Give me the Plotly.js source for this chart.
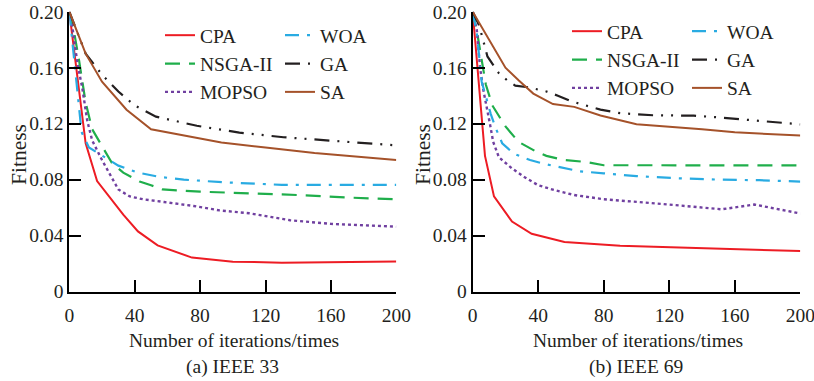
<!DOCTYPE html>
<html><head><meta charset="utf-8">
<script src="https://cdn.plot.ly/plotly-3.0.1.min.js"></script>
<style>html,body{margin:0;padding:0;background:#fff}#chart{width:814px;height:381px}</style>
</head><body><div id="chart"></div>
<script>
// ---------- data: (a) IEEE 33 ----------
const cpaA_x   = [0,10,17,25,33,42,54,75,100,130,160,200];
const cpaA_y   = [0.200,0.106,0.079,0.067,0.055,0.043,0.033,0.0243,0.0214,0.0207,0.0210,0.0215];
const woaA_x   = [0,3,5,7.5,12,20,30,42,55,70,96,130,200];
const woaA_y   = [0.200,0.165,0.140,0.114,0.103,0.097,0.090,0.085,0.082,0.080,0.078,0.0763,0.0763];
const nsgaA_x  = [0,3,6,10,14,20,26,33,43,50,57,80,110,140,170,200];
const nsgaA_y  = [0.200,0.185,0.165,0.135,0.116,0.104,0.092,0.085,0.0786,0.076,0.073,0.0714,0.0703,0.069,0.0672,0.066];
const gaA_x    = [0,10,20,30,40,53,78,104,131,157,200];
const gaA_y    = [0.200,0.170,0.155,0.143,0.133,0.125,0.1185,0.1136,0.1103,0.108,0.1045];
const mopsoA_x = [0,2,5,8,11,14,20,30,37,45,58,76,92,110,135,160,200];
const mopsoA_y = [0.200,0.188,0.163,0.145,0.122,0.108,0.094,0.073,0.068,0.066,0.064,0.0612,0.058,0.056,0.051,0.0484,0.0464];
const saA_x    = [0,10,20,35,50,75,93,120,150,200];
const saA_y    = [0.200,0.170,0.150,0.130,0.116,0.1105,0.1065,0.103,0.099,0.094];

// ---------- data: (b) IEEE 69 ----------
const cpaB_x   = [0,7.5,13,24,36,56,90,120,160,200];
const cpaB_y   = [0.200,0.097,0.068,0.050,0.0413,0.0355,0.0327,0.0317,0.0302,0.029];
const woaB_x   = [0,2.5,5.5,8,11,14,18,25,35,44,56,65,80,100,125,150,175,200];
const woaB_y   = [0.200,0.185,0.150,0.140,0.127,0.117,0.106,0.0986,0.094,0.0912,0.088,0.086,0.0845,0.0825,0.081,0.080,0.0796,0.0786];
const nsgaB_x  = [0,3,8,12,20,28,38,45,55,70,80,200];
const nsgaB_y  = [0.200,0.183,0.148,0.133,0.118,0.107,0.1005,0.097,0.0942,0.0925,0.0903,0.0902];
const gaB_x    = [0,4,9,16,21,26,34,45,52,60,78,90,110,135,150,165,200];
const gaB_y    = [0.200,0.190,0.168,0.156,0.151,0.1472,0.146,0.143,0.140,0.136,0.130,0.1275,0.126,0.1257,0.1245,0.123,0.1195];
const mopsoB_x = [0,2.5,4.5,6.5,10.5,12.5,16,24,32,40,50,62,80,95,120,152,172,200];
const mopsoB_y = [0.200,0.187,0.160,0.144,0.120,0.107,0.096,0.088,0.0815,0.076,0.0725,0.069,0.066,0.0647,0.0622,0.0588,0.0622,0.0558];
const saB_x    = [0,9,13,20,28,37,49,62,78,100,140,160,200];
const saB_y    = [0.200,0.182,0.174,0.160,0.151,0.1415,0.134,0.132,0.1258,0.1196,0.116,0.1138,0.1115];

// ---------- labels ----------
const seriesNames = ['CPA','WOA','NSGA-II','GA','MOPSO','SA'];
const xTickVals = [0,40,80,120,160,200];
const xTickText = ['0','40','80','120','160','200'];
const yTickVals = [0,0.04,0.08,0.12,0.16,0.20];
const yTickText = ['0','0.04','0.08','0.12','0.16','0.20'];
const xTitle = 'Number of iterations/times';
const yTitle = 'Fitness';
const captions = ['(a) IEEE 33','(b) IEEE 69'];

// ---------- styles ----------
const FONT = 'Liberation Serif, Times New Roman, serif';
const FS = 19.5;
const TXT = '#231f20';
const styles = {
  'CPA':     {color:'#ed1c24', dash:'solid', width:2},
  'WOA':     {color:'#29abe2', dash:'14px,8px,3px,8px', width:2.2},
  'NSGA-II': {color:'#1fae4b', dash:'15px,9px', width:2.2},
  'GA':      {color:'#231f20', dash:'15px,8px,2px,8px,2px,8px', width:2.2},
  'MOPSO':   {color:'#7040a0', dash:'3px,3px', width:2.4},
  'SA':      {color:'#a5522a', dash:'solid', width:2}
};
const panelA = {'CPA':[cpaA_x,cpaA_y],'WOA':[woaA_x,woaA_y],'NSGA-II':[nsgaA_x,nsgaA_y],'GA':[gaA_x,gaA_y],'MOPSO':[mopsoA_x,mopsoA_y],'SA':[saA_x,saA_y]};
const panelB = {'CPA':[cpaB_x,cpaB_y],'WOA':[woaB_x,woaB_y],'NSGA-II':[nsgaB_x,nsgaB_y],'GA':[gaB_x,gaB_y],'MOPSO':[mopsoB_x,mopsoB_y],'SA':[saB_x,saB_y]};
const col1 = ['CPA','NSGA-II','MOPSO'];

const traces = [];
[[panelA,'x','y','legend','legend2'],[panelB,'x2','y2','legend3','legend4']].forEach(([p,xa,ya,l1,l2])=>{
  ['CPA','NSGA-II','MOPSO','WOA','GA','SA'].forEach(n=>{
    const s = styles[n];
    traces.push({
      x:p[n][0], y:p[n][1], name:n, type:'scatter', mode:'lines',
      xaxis:xa, yaxis:ya, legend: col1.includes(n)?l1:l2,
      line:{color:s.color, dash:s.dash, width:s.width}, hoverinfo:'skip'
    });
  });
});

const W=814, H=381;
const px = v=>v/W, py = v=>1-v/H;
function xax(dom){return {domain:dom, range:[0,200], showline:true, linecolor:'#000', linewidth:2,
  ticks:'inside', ticklen:12, tickwidth:2, tickcolor:'#000', tickvals:xTickVals, ticktext:xTickText,
  showgrid:false, zeroline:false, ticklabelstandoff:5, ticklabeloverflow:'allow', fixedrange:true,
  tickfont:{family:FONT,size:FS,color:TXT}};}
function yax(anchor){return {domain:[py(291.6),py(11.7)], range:[0,0.2], showline:true, linecolor:'#000', linewidth:2,
  ticks:'inside', ticklen:12, tickwidth:2, tickcolor:'#000', tickvals:yTickVals, ticktext:yTickText,
  showgrid:false, zeroline:false, anchor:anchor, ticklabelstandoff:0, fixedrange:true,
  tickfont:{family:FONT,size:FS,color:TXT}};}
function leg(x,y){return {x:px(x), y:py(y), xanchor:'left', yanchor:'top', bgcolor:'rgba(0,0,0,0)',
  font:{family:FONT,size:FS,color:TXT}, traceorder:'normal', borderwidth:0, itemclick:false, itemdoubleclick:false};}

function ann(text,x,y,extra){return Object.assign({text:text, xref:'paper', yref:'paper', x:px(x), y:py(y),
  xanchor:'center', yanchor:'middle', showarrow:false, font:{family:FONT,size:FS,color:TXT}}, extra||{});}

const layout = {
  width:W, height:H, margin:{l:0,r:0,t:0,b:0}, paper_bgcolor:'#fff', plot_bgcolor:'#fff', showlegend:true,
  xaxis: Object.assign(xax([px(69.3),px(396.3)]),{anchor:'y'}), yaxis: yax('x'),
  xaxis2: Object.assign(xax([px(472.7),px(800.3)]),{anchor:'y2'}), yaxis2: yax('x2'),
  legend: leg(160,16), legend2: leg(280,16), legend3: leg(567,12), legend4: leg(687,12),
  annotations:[
    ann(yTitle,19,155,{textangle:-90, font:{family:FONT,size:21.5,color:TXT}}),
    ann(yTitle,423,155,{textangle:-90, font:{family:FONT,size:21.5,color:TXT}}),
    ann(xTitle,234,340), ann(xTitle,638,340),
    ann(captions[0],232,367), ann(captions[1],636,367)
  ]
};
Plotly.newPlot('chart', traces, layout, {displayModeBar:false, staticPlot:true});
</script></body></html>
